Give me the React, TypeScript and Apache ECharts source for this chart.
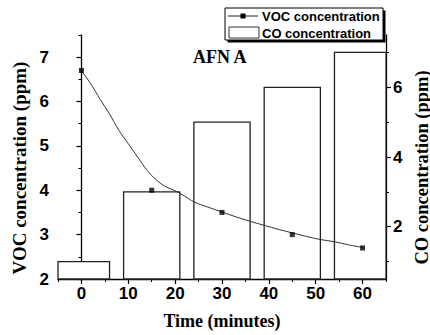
import React, { useEffect, useRef } from 'react';
import * as echarts from 'echarts';

// CO concentration bars (right axis), one per sampling time
const barTimes = [0, 15, 30, 45, 60];
const coValues = [1.0, 3.0, 5.0, 6.0, 7.0];

// measured VOC concentration (left axis)
const vocTimes = [0, 15, 30, 45, 60];
const vocValues = [6.7, 4.0, 3.5, 3.0, 2.7];

// decay fit curve through the VOC measurements
const fitTimes = [0, 2, 4, 6, 8, 10, 12, 14, 16, 18, 20, 22, 24, 27, 30, 33, 36, 39, 42, 45, 48, 51, 54, 57, 60];
const fitValues = [6.69, 6.4, 6.05, 5.72, 5.35, 5.05, 4.75, 4.45, 4.23, 4.08, 3.99, 3.87, 3.74, 3.62, 3.51, 3.4, 3.3, 3.21, 3.12, 3.04, 2.96, 2.89, 2.84, 2.77, 2.71];

// tick positions
const xMajor = [0, 10, 20, 30, 40, 50, 60];
const xMinor = [-5, 5, 15, 25, 35, 45, 55, 65];
const vocMajor = [2, 3, 4, 5, 6, 7];
const vocMinor = [2.5, 3.5, 4.5, 5.5, 6.5, 7.5];
const coMajor = [2, 4, 6];
const coMinor = [1, 3, 5, 7];

const X_MIN = -5;
const X_MAX = 65;
const VOC_MIN = 2;
const VOC_MAX = 7.5;
const CO_MIN = 0.5;
const CO_MAX = 7.5;
const BAR_SPAN = 12; // minutes covered by each CO bar

const SANS = 'Liberation Sans, Arial, sans-serif';
const SERIF = 'Liberation Serif, Times New Roman, serif';

const W = 430;
const H = 335;
const GRID = { left: 58, right: 44, top: 35, bottom: 56 };

export default function App() {
  const ref = useRef<HTMLDivElement>(null);

  useEffect(() => {
    if (!ref.current) return;
    const chart = echarts.init(ref.current, undefined, { renderer: 'svg', width: W, height: H });

    const axisLine = { show: true, lineStyle: { color: '#000', width: 1.3 } };
    const noLabel = { show: false };
    const tickFont = { color: '#000', fontFamily: SANS, fontWeight: 'bold', fontSize: 17 };

    const majorX = {
      type: 'value',
      min: X_MIN,
      max: X_MAX,
      position: 'bottom',
      axisLine,
      splitLine: { show: false },
      axisTick: { show: true, length: 5, customValues: xMajor, lineStyle: { color: '#000', width: 1.2 } },
      axisLabel: { show: true, customValues: xMajor, margin: 6, ...tickFont },
      name: 'Time (minutes)',
      nameLocation: 'middle',
      nameGap: 33,
      nameTextStyle: { fontFamily: SERIF, fontWeight: 'bold', fontSize: 18, color: '#000' },
    };
    const minorX = {
      type: 'value',
      min: X_MIN,
      max: X_MAX,
      position: 'bottom',
      axisLine: { show: false },
      splitLine: { show: false },
      axisTick: { show: true, length: 3, customValues: xMinor, lineStyle: { color: '#000', width: 1 } },
      axisLabel: noLabel,
    };

    const option = {
      animation: false,
      title: {
        text: 'AFN A',
        left: 188,
        top: 43,
        textStyle: { fontFamily: SERIF, fontWeight: 'bold', fontSize: 18, color: '#000' },
      },
      grid: { ...GRID, containLabel: false, outerBoundsMode: 'none' },
      xAxis: [majorX, minorX],
      yAxis: [
        {
          type: 'value',
          min: VOC_MIN,
          max: VOC_MAX,
          position: 'left',
          axisLine,
          splitLine: { show: false },
          axisTick: { show: true, length: 5, customValues: vocMajor, lineStyle: { color: '#000', width: 1.2 } },
          axisLabel: { show: true, margin: 9, customValues: vocMajor, ...tickFont },
        },
        {
          type: 'value',
          min: VOC_MIN,
          max: VOC_MAX,
          position: 'left',
          axisLine: { show: false },
          splitLine: { show: false },
          axisTick: { show: true, length: 3, customValues: vocMinor, lineStyle: { color: '#000', width: 1 } },
          axisLabel: noLabel,
        },
        {
          type: 'value',
          min: CO_MIN,
          max: CO_MAX,
          position: 'right',
          axisLine,
          splitLine: { show: false },
          axisTick: { show: true, length: 5, customValues: coMajor, lineStyle: { color: '#000', width: 1.2 } },
          axisLabel: { show: true, margin: 7, customValues: coMajor, ...tickFont },
        },
        {
          type: 'value',
          min: CO_MIN,
          max: CO_MAX,
          position: 'right',
          axisLine: { show: false },
          splitLine: { show: false },
          axisTick: { show: true, length: 3, customValues: coMinor, lineStyle: { color: '#000', width: 1 } },
          axisLabel: noLabel,
        },
      ],
      series: [
        {
          name: 'CO concentration',
          type: 'custom',
          xAxisIndex: 0,
          yAxisIndex: 2,
          encode: { x: 0, y: 1 },
          z: 1,
          data: barTimes.map((t, i) => [t, coValues[i]]),
          renderItem: (params: any, api: any) => {
            const t = api.value(0);
            const v = api.value(1);
            const p1 = api.coord([t - BAR_SPAN / 2, v]);
            const p2 = api.coord([t + BAR_SPAN / 2, CO_MIN]);
            const cs = params.coordSys;
            const shape = echarts.graphic.clipRectByRect(
              { x: p1[0], y: p1[1], width: p2[0] - p1[0], height: p2[1] - p1[1] },
              { x: cs.x, y: cs.y, width: cs.width, height: cs.height }
            );
            if (!shape) return null;
            return {
              type: 'rect',
              shape,
              style: { fill: '#fff', stroke: '#222', lineWidth: 1.3 },
            };
          },
        },
        {
          name: 'VOC fit',
          type: 'line',
          xAxisIndex: 0,
          yAxisIndex: 0,
          smooth: 0.3,
          showSymbol: false,
          symbol: 'none',
          z: 3,
          lineStyle: { color: '#333', width: 1 },
          data: fitTimes.map((t, i) => [t, fitValues[i]]),
        },
        {
          name: 'VOC concentration',
          type: 'scatter',
          xAxisIndex: 0,
          yAxisIndex: 0,
          symbol: 'rect',
          symbolSize: 5,
          z: 4,
          itemStyle: { color: '#000' },
          data: vocTimes.map((t, i) => [t, vocValues[i]]),
        },
      ],
      graphic: [
        // rotated axis titles
        {
          type: 'text', x: 19, y: 168, rotation: Math.PI / 2,
          style: { text: 'VOC concentration (ppm)', fontFamily: SERIF, fontWeight: 'bold', fontSize: 19, fill: '#000', align: 'center', verticalAlign: 'middle' },
        },
        {
          type: 'text', x: 421.5, y: 167.5, rotation: Math.PI / 2,
          style: { text: 'CO concentration (ppm)', fontFamily: SERIF, fontWeight: 'bold', fontSize: 18.5, fill: '#000', align: 'center', verticalAlign: 'middle' },
        },
        // legend box with drop shadow
        { type: 'rect', z: 10, shape: { x: 227.5, y: 10.5, width: 158, height: 32 }, style: { fill: '#000' } },
        { type: 'rect', z: 11, shape: { x: 225, y: 8, width: 158, height: 32 }, style: { fill: '#fff', stroke: '#000', lineWidth: 1 } },
        { type: 'line', z: 12, shape: { x1: 228, y1: 16, x2: 258, y2: 16 }, style: { stroke: '#222', lineWidth: 1 } },
        { type: 'rect', z: 12, shape: { x: 240.5, y: 13.5, width: 5, height: 5 }, style: { fill: '#000' } },
        {
          type: 'text', z: 12, x: 262, y: 16.5,
          style: { text: 'VOC concentration', fontFamily: SANS, fontWeight: 'bold', fontSize: 13, fill: '#000', verticalAlign: 'middle', align: 'left' },
        },
        { type: 'rect', z: 12, shape: { x: 229, y: 27, width: 30, height: 11 }, style: { fill: '#fff', stroke: '#333', lineWidth: 1 } },
        {
          type: 'text', z: 12, x: 262, y: 33.5,
          style: { text: 'CO concentration', fontFamily: SANS, fontWeight: 'bold', fontSize: 13, fill: '#000', verticalAlign: 'middle', align: 'left' },
        },
      ],
    };

    chart.setOption(option as any);
    return () => chart.dispose();
  }, []);

  return (
    <div
      ref={ref}
      style={{ position: 'absolute', left: 0, top: 0, width: W, height: H, background: '#fff' }}
    />
  );
}
